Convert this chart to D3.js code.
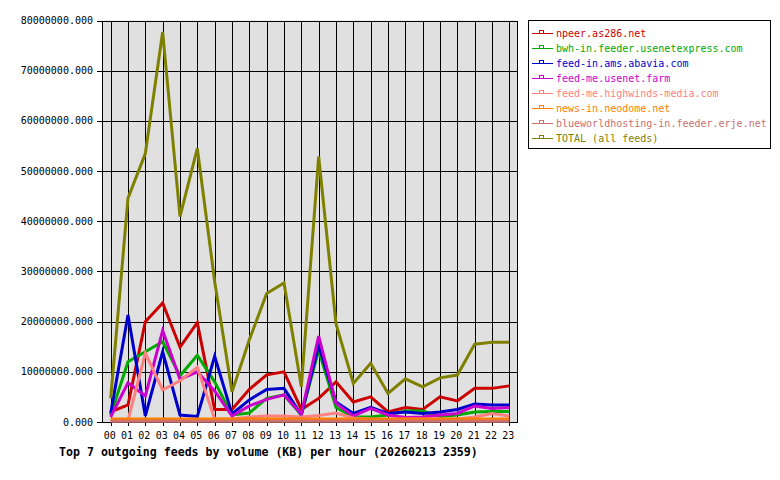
<!DOCTYPE html>
<html><head><meta charset="utf-8">
<script src="https://cdn.jsdelivr.net/npm/d3@7/dist/d3.min.js"></script>
<style>
html,body{margin:0;padding:0;background:#fff;}
svg{display:block;}
text{font-family:"DejaVu Sans Mono","Liberation Mono",monospace;}
</style></head>
<body>
<svg id="chart" width="780" height="480"></svg>
<script>
const hours = ["00","01","02","03","04","05","06","07","08","09","10","11","12","13","14","15","16","17","18","19","20","21","22","23"];
const seriesNames = ["npeer.as286.net","bwh-in.feeder.usenetexpress.com","feed-in.ams.abavia.com","feed-me.usenet.farm","feed-me.highwinds-media.com","news-in.neodome.net","blueworldhosting-in.feeder.erje.net","TOTAL (all feeds)"];
const seriesColors = ["#cc0000","#00aa00","#0000cc","#cc00cc","#ff8080","#ff8000","#cc7070","#808000"];
// values in millions of KB
const npeer      = [2.0,3.4,20.0,23.7,14.9,19.8,2.5,2.5,6.5,9.4,10.0,2.5,4.7,8.0,4.0,5.0,2.0,2.9,2.5,5.0,4.2,6.7,6.7,7.2];
const bwh        = [1.4,12.0,14.0,16.0,9.2,13.3,8.0,1.4,1.8,4.7,5.4,1.4,14.3,2.9,1.0,1.0,1.4,2.2,2.2,1.1,1.4,2.0,2.1,2.1];
const abavia     = [1.7,21.3,1.2,14.0,1.4,1.1,13.1,1.6,4.4,6.5,6.7,1.4,15.3,4.0,1.7,2.9,1.7,2.0,1.7,2.0,2.5,3.6,3.4,3.4];
const usenetfarm = [1.0,7.8,5.2,18.2,8.5,10.0,6.2,1.2,3.2,4.5,5.4,1.6,17.1,3.7,1.2,2.7,1.4,0.9,1.0,1.4,1.7,3.2,2.7,2.9];
const highwinds  = [0.3,0.3,13.7,6.4,8.2,10.9,0.6,0.6,1.0,1.2,1.2,1.0,1.3,1.8,0.8,0.6,0.5,0.6,0.6,0.6,0.6,1.0,1.7,1.2];
const neodome    = [0.6,0.6,0.6,0.6,0.6,0.6,0.6,0.6,0.6,0.6,0.6,0.6,0.6,0.6,0.6,0.6,0.6,0.6,0.6,0.6,0.6,0.6,0.6,0.6];
const erje       = [0.15,0.15,0.15,0.15,0.15,0.15,0.15,0.15,0.15,0.15,0.15,0.15,0.15,0.15,0.15,0.15,0.15,0.15,0.15,0.15,0.15,0.15,0.15,0.15];
const total      = [4.7,44.6,53.5,77.7,40.9,54.5,28.0,6.0,16.4,25.6,27.7,7.0,52.9,19.6,7.7,11.7,5.7,8.6,7.0,8.8,9.35,15.5,15.9,15.9];
const yTicks = [0,10,20,30,40,50,60,70,80];
const titleText = "Top 7 outgoing feeds by volume (KB) per hour (20260213 2359)";

const allSeries = [npeer,bwh,abavia,usenetfarm,highwinds,neodome,erje,total];

const svg = d3.select("#chart");
const L = 102, R = 518, T = 20.5, B = 422;
const x = d3.scaleBand().domain(hours).range([L, R]);
const xc = h => x(h) + x.bandwidth()/2;
const y = d3.scaleLinear().domain([0, 80e6]).range([B, T]);
const fmt = d3.format(".3f");

// plot background
svg.append("rect").attr("x",L).attr("y",T).attr("width",R-L).attr("height",B-T).attr("fill","#e0e0e0");

// grid
const g = svg.append("g").attr("shape-rendering","crispEdges");
g.selectAll(".vg").data(hours).enter().append("line")
  .attr("x1",d=>Math.round(xc(d))+0.5).attr("x2",d=>Math.round(xc(d))+0.5)
  .attr("y1",T).attr("y2",B+4).attr("stroke","#000");
g.selectAll(".hg").data(yTicks).enter().append("line")
  .attr("x1",L-5).attr("x2",R).attr("y1",d=>Math.round(y(d*1e6))+0.5).attr("y2",d=>Math.round(y(d*1e6))+0.5)
  .attr("stroke","#000");
g.append("rect").attr("x",L+0.5).attr("y",Math.round(T)+0.5).attr("width",R-L-1).attr("height",B-Math.round(T)).attr("fill","none").attr("stroke","#000");

// y labels
svg.append("g").selectAll("text").data(yTicks).enter().append("text")
  .attr("x",93).attr("y",d=>y(d*1e6)).attr("dy","0.35em").attr("text-anchor","end")
  .attr("font-size","10px").attr("fill","#000").text(d=>fmt(d*1e6));

// x labels
svg.append("g").selectAll("text").data(hours).enter().append("text")
  .attr("x",d=>xc(d)-1).attr("y",438.5).attr("text-anchor","middle")
  .attr("font-size","10px").attr("fill","#000").text(d=>d);

// lines
const line = d3.line().x((d,i)=>xc(hours[i])).y(d=>y(d*1e6));
allSeries.forEach((s,k)=>{
  svg.append("path").datum(s).attr("d",line).attr("fill","none")
    .attr("stroke",seriesColors[k]).attr("stroke-width",3).attr("stroke-linejoin","miter");
});

// title
svg.append("text").attr("x",59).attr("y",456).attr("font-size","11.6px").attr("font-weight","bold")
  .attr("fill","#000").text(titleText);

// legend
const lg = svg.append("g");
lg.append("rect").attr("x",528.5).attr("y",20.5).attr("width",242).attr("height",128).attr("fill","#fff").attr("stroke","#000").attr("shape-rendering","crispEdges");
seriesNames.forEach((n,k)=>{
  const yy = 33 + k*15;
  lg.append("line").attr("x1",532).attr("x2",553).attr("y1",yy+0.5).attr("y2",yy+0.5).attr("stroke",seriesColors[k]).attr("shape-rendering","crispEdges");
  lg.append("rect").attr("x",539.5).attr("y",yy-2.5).attr("width",4).attr("height",3).attr("fill","none").attr("stroke",seriesColors[k]).attr("shape-rendering","crispEdges");
  lg.append("text").attr("x",556).attr("y",yy).attr("dy","0.35em").attr("font-size","10px").attr("fill",seriesColors[k]).text(n);
});
</script>
</body></html>
